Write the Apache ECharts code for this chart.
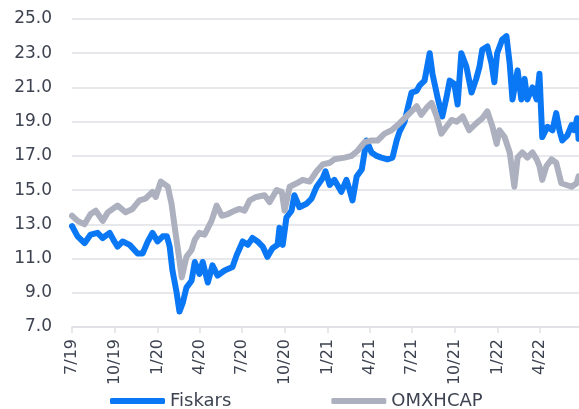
<!DOCTYPE html>
<html>
<head>
<meta charset="utf-8">
<script src="https://cdn.jsdelivr.net/npm/echarts@6/dist/echarts.min.js"></script>
<style>
  html, body { margin: 0; padding: 0; background: #fff; }
  #chart { width: 579px; height: 409px; }
</style>
</head>
<body>
<div id="chart"></div>
<script>
// Fiskars share price vs OMXHCAP index (rebased)
const fiskarsDates = [
  "2019-07-01","2019-07-13","2019-07-28","2019-08-10","2019-08-25","2019-09-05","2019-09-20","2019-09-30",
  "2019-10-07","2019-10-18","2019-11-02","2019-11-19","2019-11-30","2019-12-11","2019-12-21","2020-01-01",
  "2020-01-12","2020-01-21","2020-01-27","2020-02-02","2020-02-11","2020-02-17","2020-02-24","2020-03-03",
  "2020-03-14","2020-03-21","2020-03-31","2020-04-07","2020-04-18","2020-04-28","2020-05-09","2020-05-24",
  "2020-06-10","2020-06-19","2020-07-02","2020-07-13","2020-07-23","2020-08-03","2020-08-14","2020-08-24",
  "2020-09-04","2020-09-15","2020-09-19","2020-09-26","2020-10-04","2020-10-15","2020-10-21","2020-11-01",
  "2020-11-16","2020-11-27","2020-12-08","2020-12-21","2020-12-27","2021-01-05","2021-01-15","2021-01-30",
  "2021-02-10","2021-02-17","2021-02-23","2021-03-04","2021-03-15","2021-03-25","2021-04-05","2021-04-16",
  "2021-04-26","2021-05-09","2021-05-20","2021-05-29","2021-06-04","2021-06-15","2021-06-21","2021-06-30",
  "2021-07-11","2021-07-17","2021-07-28","2021-08-08","2021-08-14","2021-08-25","2021-09-04","2021-09-13",
  "2021-09-20","2021-09-30","2021-10-07","2021-10-15","2021-10-26","2021-11-06","2021-11-16","2021-11-23",
  "2021-11-29","2021-12-10","2021-12-19","2021-12-25","2021-12-31","2022-01-11","2022-01-20","2022-01-27",
  "2022-02-02","2022-02-13","2022-02-21","2022-02-28","2022-03-06","2022-03-17","2022-03-26","2022-04-01",
  "2022-04-07","2022-04-18","2022-04-29","2022-05-07","2022-05-14","2022-05-20","2022-05-31","2022-06-09",
  "2022-06-15","2022-06-21","2022-06-24"
];
const fiskarsValues = [
  12.9,12.3,11.9,12.4,12.5,12.2,12.5,12.0,
  11.7,12.0,11.8,11.3,11.3,12.0,12.5,12.0,
  12.3,12.3,11.7,10.3,9.0,7.9,8.4,9.3,
  9.7,10.8,10.1,10.8,9.6,10.6,10.0,10.3,
  10.5,11.2,12.0,11.8,12.2,12.0,11.7,11.1,
  11.6,11.8,12.8,11.8,13.4,13.8,14.7,14.0,
  14.2,14.5,15.2,15.7,16.1,15.3,15.6,14.9,
  15.6,15.0,14.4,15.8,16.2,17.9,17.2,17.0,
  16.9,16.8,16.9,17.9,18.4,19.0,19.7,20.7,
  20.8,21.1,21.4,23.0,21.8,20.4,19.3,20.4,
  21.4,21.2,20.0,23.0,22.2,20.7,21.5,22.2,
  23.2,23.4,22.4,21.3,23.0,23.8,24.0,22.4,
  20.3,22.0,20.3,21.5,20.3,21.0,20.3,21.8,
  18.1,18.7,18.5,19.5,18.5,17.9,18.2,18.8,
  18.5,19.2,18.0
];

const omxDates = [
  "2019-07-01","2019-07-13","2019-07-28","2019-08-10","2019-08-21","2019-09-05","2019-09-16","2019-10-07",
  "2019-10-24","2019-11-08","2019-11-23","2019-12-06","2019-12-21","2019-12-28","2020-01-08","2020-01-12",
  "2020-01-23","2020-01-31","2020-02-07","2020-02-17","2020-02-22","2020-03-03","2020-03-14","2020-03-21",
  "2020-03-31","2020-04-11","2020-04-26","2020-05-07","2020-05-18","2020-05-31","2020-06-15","2020-06-25",
  "2020-07-06","2020-07-17","2020-07-31","2020-08-18","2020-08-29","2020-09-13","2020-09-24","2020-09-30",
  "2020-10-11","2020-10-26","2020-11-08","2020-11-23","2020-12-08","2020-12-21","2021-01-05","2021-01-15",
  "2021-02-06","2021-02-21","2021-03-06","2021-03-21","2021-04-05","2021-04-18","2021-05-03","2021-05-18",
  "2021-05-31","2021-06-15","2021-06-30","2021-07-11","2021-07-21","2021-08-01","2021-08-12","2021-08-23",
  "2021-09-02","2021-09-13","2021-09-24","2021-10-05","2021-10-18","2021-11-01","2021-11-16","2021-11-29",
  "2021-12-10","2021-12-21","2021-12-30","2022-01-05","2022-01-16","2022-01-27","2022-02-06","2022-02-13",
  "2022-02-23","2022-03-06","2022-03-17","2022-03-26","2022-04-01","2022-04-07","2022-04-16","2022-04-27",
  "2022-05-07","2022-05-18","2022-05-29","2022-06-09","2022-06-20","2022-06-24"
];
const omxValues = [
  13.5,13.2,13.0,13.6,13.8,13.2,13.7,14.1,
  13.7,13.9,14.4,14.5,14.9,14.6,15.5,15.6,
  15.2,14.2,12.8,10.9,9.9,11.1,11.5,12.1,
  12.5,12.4,13.2,14.1,13.5,13.6,13.8,13.9,
  13.8,14.4,14.6,14.7,14.3,15.0,14.9,13.8,
  15.2,15.4,15.6,15.5,16.1,16.5,16.6,16.8,
  16.9,17.0,17.3,17.8,17.9,17.9,18.3,18.5,
  18.8,19.2,19.6,19.9,19.4,19.8,20.1,19.3,
  18.3,18.7,19.1,19.0,19.3,18.5,18.9,19.2,
  19.6,18.7,17.7,18.5,18.1,17.2,15.2,16.9,
  17.2,16.9,17.2,16.8,16.4,15.6,16.4,16.8,
  16.6,15.4,15.3,15.2,15.4,15.8
];

const seriesNames = ["Fiskars", "OMXHCAP"];
const seriesColors = ["#0a78f5", "#adb1bf"];

const textColor = "#3d4350";
const gridColor = "#dfe0e6";
const font = "DejaVu Sans";

const chart = echarts.init(document.getElementById("chart"));

const option = {
  animation: false,
  color: seriesColors,
  grid: { left: 72, right: 0, top: 19, bottom: 82 },
  legend: {
    data: seriesNames,
    left: 105,
    top: 387,
    icon: "roundRect",
    itemWidth: 55,
    itemHeight: 6,
    itemGap: 100,
    textStyle: { color: textColor, fontSize: 18, fontFamily: font }
  },
  xAxis: {
    type: "time",
    min: "2019-07-01",
    max: "2022-06-25",
    splitNumber: 10,
    axisLine: { show: true, lineStyle: { color: gridColor, width: 1.5 } },
    axisTick: { show: true, length: 6, lineStyle: { color: gridColor, width: 1.5 } },
    splitLine: { show: false },
    axisLabel: {
      rotate: 90,
      margin: 12,
      color: textColor,
      fontSize: 16,
      fontFamily: font,
      hideOverlap: false,
      formatter: function (value) {
        const d = new Date(value);
        return (d.getMonth() + 1) + "/" + String(d.getFullYear()).slice(2);
      }
    }
  },
  yAxis: {
    type: "value",
    min: 7,
    max: 25,
    interval: 2,
    axisLine: { show: false },
    axisTick: { show: false },
    splitLine: { lineStyle: { color: gridColor, width: 1.5 } },
    axisLabel: {
      margin: 20,
      color: textColor,
      fontSize: 17,
      fontFamily: font,
      formatter: function (v) { return v.toFixed(1); }
    }
  },
  series: [
    {
      name: seriesNames[0],
      type: "line",
      symbol: "none",
      data: fiskarsDates.map((d, i) => [d, fiskarsValues[i]]),
      lineStyle: { width: 6, color: seriesColors[0], join: "round", cap: "round" }
    },
    {
      name: seriesNames[1],
      type: "line",
      symbol: "none",
      data: omxDates.map((d, i) => [d, omxValues[i]]),
      lineStyle: { width: 6, color: seriesColors[1], join: "round", cap: "round" }
    }
  ]
};

chart.setOption(option);
</script>
</body>
</html>
